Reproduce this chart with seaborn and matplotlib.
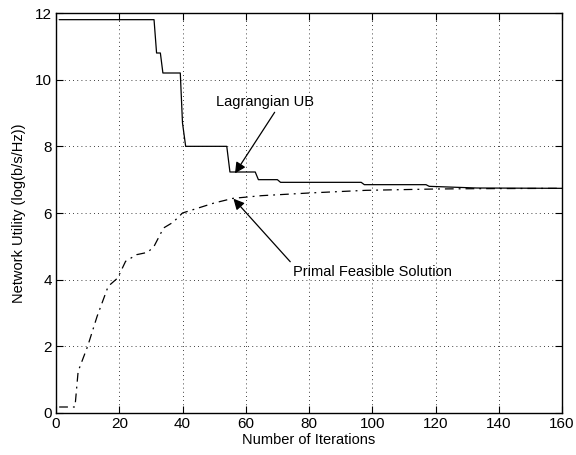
import matplotlib
matplotlib.use("Agg")
import matplotlib.pyplot as plt
import seaborn as sns
import pandas as pd

# Lagrangian upper bound
ub_iter = [1, 31, 31.8, 33, 33.8, 39.3, 40, 41, 54, 55, 63, 64, 70, 71, 96.5, 97.5, 117, 118, 133, 160]
ub_val = [11.8, 11.8, 10.8, 10.8, 10.2, 10.2, 8.7, 8.0, 8.0, 7.23, 7.23, 7.0, 7.0, 6.92, 6.92, 6.85, 6.85, 6.8, 6.75, 6.74]

# Primal feasible solution
pf_iter = [1, 6, 7, 10, 13, 16.5, 19.5, 22, 25.5, 29, 31, 34, 37, 40, 45, 50, 56, 65, 80, 98, 120, 133, 160]
pf_val = [0.18, 0.18, 1.25, 2.0, 2.9, 3.8, 4.05, 4.55, 4.75, 4.82, 5.0, 5.55, 5.72, 6.0, 6.15, 6.3, 6.44, 6.52, 6.6, 6.68, 6.72, 6.73, 6.74]

x_ticks = [0, 20, 40, 60, 80, 100, 120, 140, 160]
y_ticks = [0, 2, 4, 6, 8, 10, 12]

sns.set_style("white")
plt.rcParams['font.family'] = ['Liberation Sans', 'DejaVu Sans']
plt.rcParams['text.color'] = 'black'
plt.rcParams['axes.labelcolor'] = 'black'

fig = plt.figure(figsize=(5.76, 4.55), dpi=100)
ax = fig.add_axes([56/576, 1-413/455, (562-56)/576, (413-13)/455])

df_ub = pd.DataFrame({"it": ub_iter, "val": ub_val})
df_pf = pd.DataFrame({"it": pf_iter, "val": pf_val})
sns.lineplot(data=df_ub, x="it", y="val", ax=ax, color="black", lw=0.9,
             estimator=None, sort=False)
sns.lineplot(data=df_pf, x="it", y="val", ax=ax, color="black", lw=0.9,
             estimator=None, sort=False, linestyle=(0, (7, 4, 1.5, 4)))

ax.set_xlim(0, 160)
ax.set_ylim(0, 12)
ax.set_xticks(x_ticks)
ax.set_yticks(y_ticks)
ax.grid(True, color="black", linestyle=(0, (1, 4)), lw=0.6)
for s in ax.spines.values():
    s.set_visible(True)
    s.set_color("black")
    s.set_linewidth(1.0)
ax.tick_params(direction="in", length=5, width=0.8, top=True, right=True,
               bottom=True, left=True, labelsize=11, colors="black", pad=3)
ax.set_xlabel("Number of Iterations", fontsize=10.5, labelpad=1, color="black")
ax.set_ylabel("Network Utility (log(b/s/Hz))", fontsize=10.5, labelpad=6, color="black")

ax.annotate("Lagrangian UB", xy=(56.6, 7.19), xytext=(50.6, 9.33),
            fontsize=10.5, va="center", ha="left", color="black",
            arrowprops=dict(arrowstyle="-|>", color="black", lw=0.9,
                            mutation_scale=16, shrinkA=0, shrinkB=0,
                            relpos=(0.62, 0.0)))
ax.annotate("Primal Feasible Solution", xy=(56.1, 6.43), xytext=(75, 4.23),
            fontsize=10.5, va="center", ha="left", color="black",
            arrowprops=dict(arrowstyle="-|>", color="black", lw=0.9,
                            mutation_scale=16, shrinkA=0, shrinkB=0,
                            relpos=(0.0, 1.0)))

fig.savefig("out.png", dpi=100)
